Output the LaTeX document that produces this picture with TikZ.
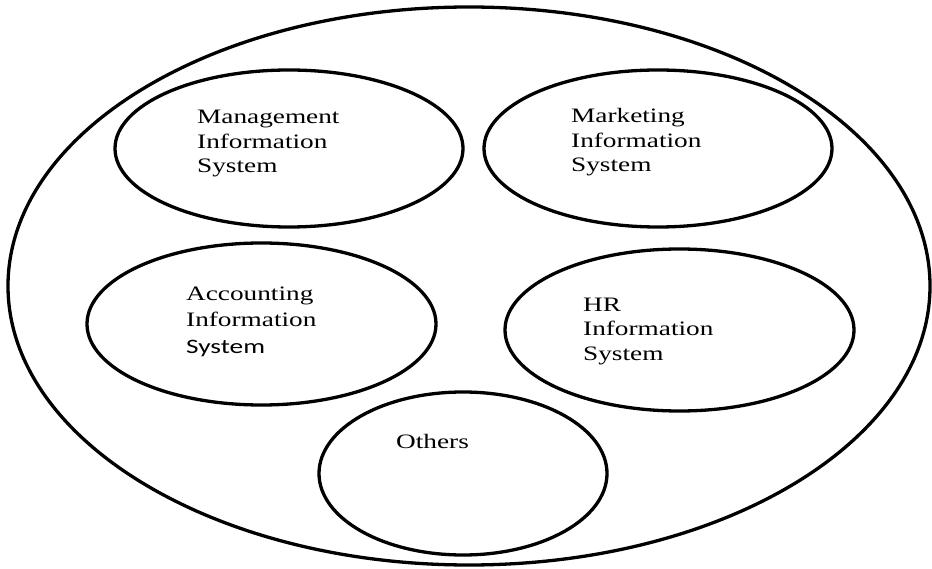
\documentclass[tikz,border=0pt]{standalone}
\usepackage{fontspec}
\setmainfont{Liberation Serif}[FakeStretch=1.33]
\newfontfamily\calfont{Carlito}[FakeStretch=1.33]
\usetikzlibrary{shapes.geometric}
\begin{document}
\begin{tikzpicture}[x=1pt,y=-1pt,
  oval/.style={ellipse, draw=black, line width=3.3pt, inner sep=0pt},
  lbl/.style={anchor=base west, align=left, inner sep=0pt, font=\fontsize{20.5}{24.5}\selectfont}]
\useasboundingbox (0,0) rectangle (932,569);
\node[oval, minimum width=922pt, minimum height=558pt] (outer) at (469,286) {};
\node[oval, minimum width=348pt, minimum height=157pt] (mis) at (289,148.5) {};
\node[oval, minimum width=348pt, minimum height=157pt] (mkt) at (658,148.5) {};
\node[oval, minimum width=349pt, minimum height=162pt] (acc) at (261.5,324) {};
\node[oval, minimum width=349pt, minimum height=162pt] (hr) at (679.5,330) {};
\node[oval, minimum width=288pt, minimum height=163pt] (oth) at (463,473.5) {};
\node[lbl] (mist) at (197,173) {Management\\Information\\System};
\node[lbl] (mktt) at (571,172) {Marketing\\Information\\System};
\node[lbl, font=\fontsize{20.5}{26.5}\selectfont] (acct) at (186,353) {Accounting\\Information\\{\calfont System}};
\node[lbl] (hrt) at (583,360) {HR\\Information\\System};
\node[lbl] (otht) at (396,448) {Others};
\end{tikzpicture}
\end{document}
